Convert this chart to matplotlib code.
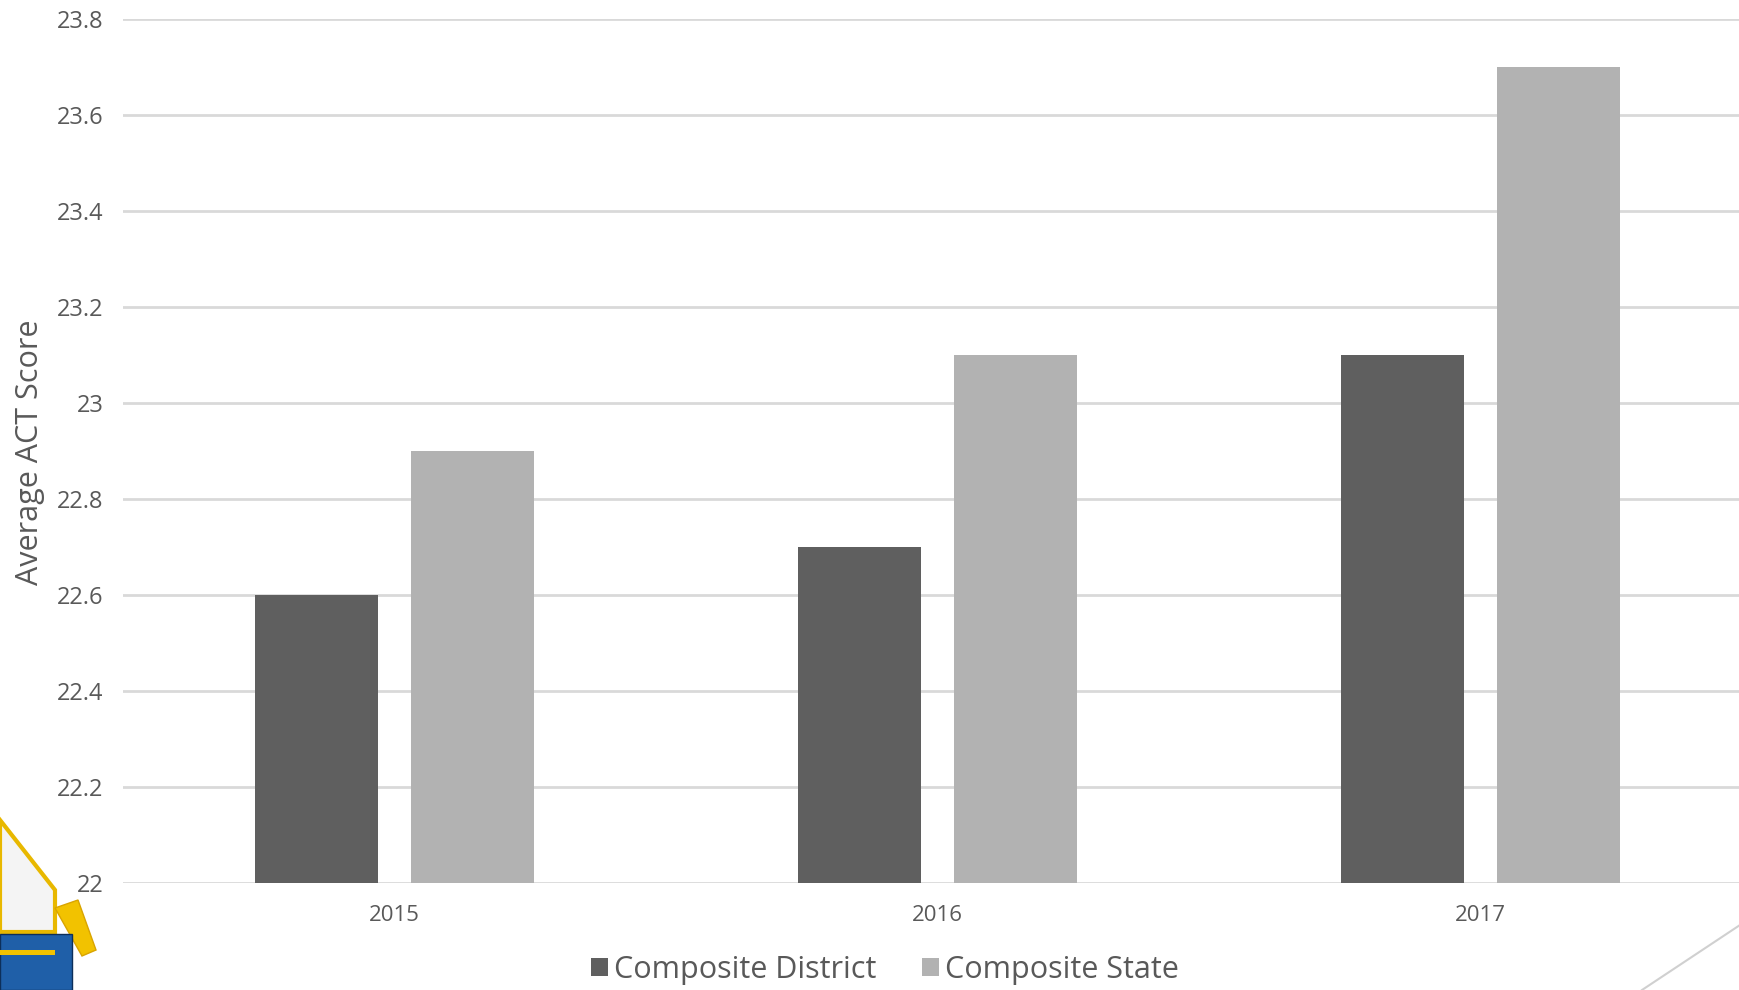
import matplotlib
matplotlib.use("Agg")
import matplotlib.pyplot as plt
import numpy as np
from matplotlib.patches import Polygon
from matplotlib.lines import Line2D

years = ["2015", "2016", "2017"]
district = [22.6, 22.7, 23.1]
state = [22.9, 23.1, 23.7]
series_names = ["Composite District", "Composite State"]
yticks = [22, 22.2, 22.4, 22.6, 22.8, 23, 23.2, 23.4, 23.6, 23.8]
ytick_labels = ["22", "22.2", "22.4", "22.6", "22.8", "23", "23.2", "23.4", "23.6", "23.8"]

plt.rcParams['font.family'] = ['Open Sans', 'DejaVu Sans']
TXT = "#595959"
DARK = "#5f5f5f"
LIGHT = "#b2b2b2"
GRID = "#d9d9d9"

W, H = 1740, 990
fig = plt.figure(figsize=(17.4, 9.9), dpi=100)
ax = fig.add_axes([123 / W, 107 / H, 1629 / W, 864 / H])

x = np.arange(len(years))
bw = 0.225
off = 0.1435
ax.bar(x - off, [d - 22 for d in district], bw, bottom=22, color=DARK, zorder=3, label=series_names[0])
ax.bar(x + off, [s - 22 for s in state], bw, bottom=22, color=LIGHT, zorder=3, label=series_names[1])

ax.set_xlim(-0.5, 2.5)
ax.set_ylim(22, 23.8)
ax.set_yticks(yticks)
ax.set_yticklabels(ytick_labels)
ax.set_xticks(x)
ax.set_xticklabels(years)
ax.yaxis.grid(True, color=GRID, linewidth=2, zorder=0)
ax.set_axisbelow(True)
for s in ax.spines.values():
    s.set_visible(False)
ax.tick_params(axis='both', length=0, colors=TXT)
ax.tick_params(axis='y', pad=14, labelsize=17)
ax.tick_params(axis='x', pad=16, labelsize=16)

fig.text(30 / W, 1 - 452 / H, "Average ACT Score", rotation=90, fontsize=22, color=TXT,
         ha='center', va='center')

leg = fig.legend(loc='center', bbox_to_anchor=(885 / W, 20 / H), ncol=2, frameon=False,
                 fontsize=22, handlelength=0.55, handleheight=0.55, handletextpad=0.2,
                 columnspacing=1.5, labelcolor=TXT)

# decorative diagonal line bottom-right
fig.add_artist(Line2D([1642 / W, 1.0], [0, 65 / H], color="#d0d0d0", linewidth=1.5,
                      transform=fig.transFigure))

# rough emblem bottom-left
def P(pts):
    return [(px / W, 1 - py / H) for px, py in pts]

fig.add_artist(Polygon(P([(0, 820), (55, 890), (55, 932), (0, 932)]),
                       closed=True, fc="#f4f4f4", ec="#e8b800", lw=3, transform=fig.transFigure))
fig.add_artist(Polygon(P([(55, 908), (78, 900), (96, 950), (82, 956)]),
                       closed=True, fc="#f2c200", ec="#d9a400", lw=1, transform=fig.transFigure))
fig.add_artist(Polygon(P([(0, 934), (72, 934), (72, 990), (0, 990)]),
                       closed=True, fc="#1f5fa8", ec="#0d2f5a", lw=1, transform=fig.transFigure))
fig.add_artist(Polygon(P([(0, 950), (55, 950), (55, 955), (0, 955)]),
                       closed=True, fc="#f2c200", ec="none", transform=fig.transFigure))

fig.savefig("out.png", dpi=100)
